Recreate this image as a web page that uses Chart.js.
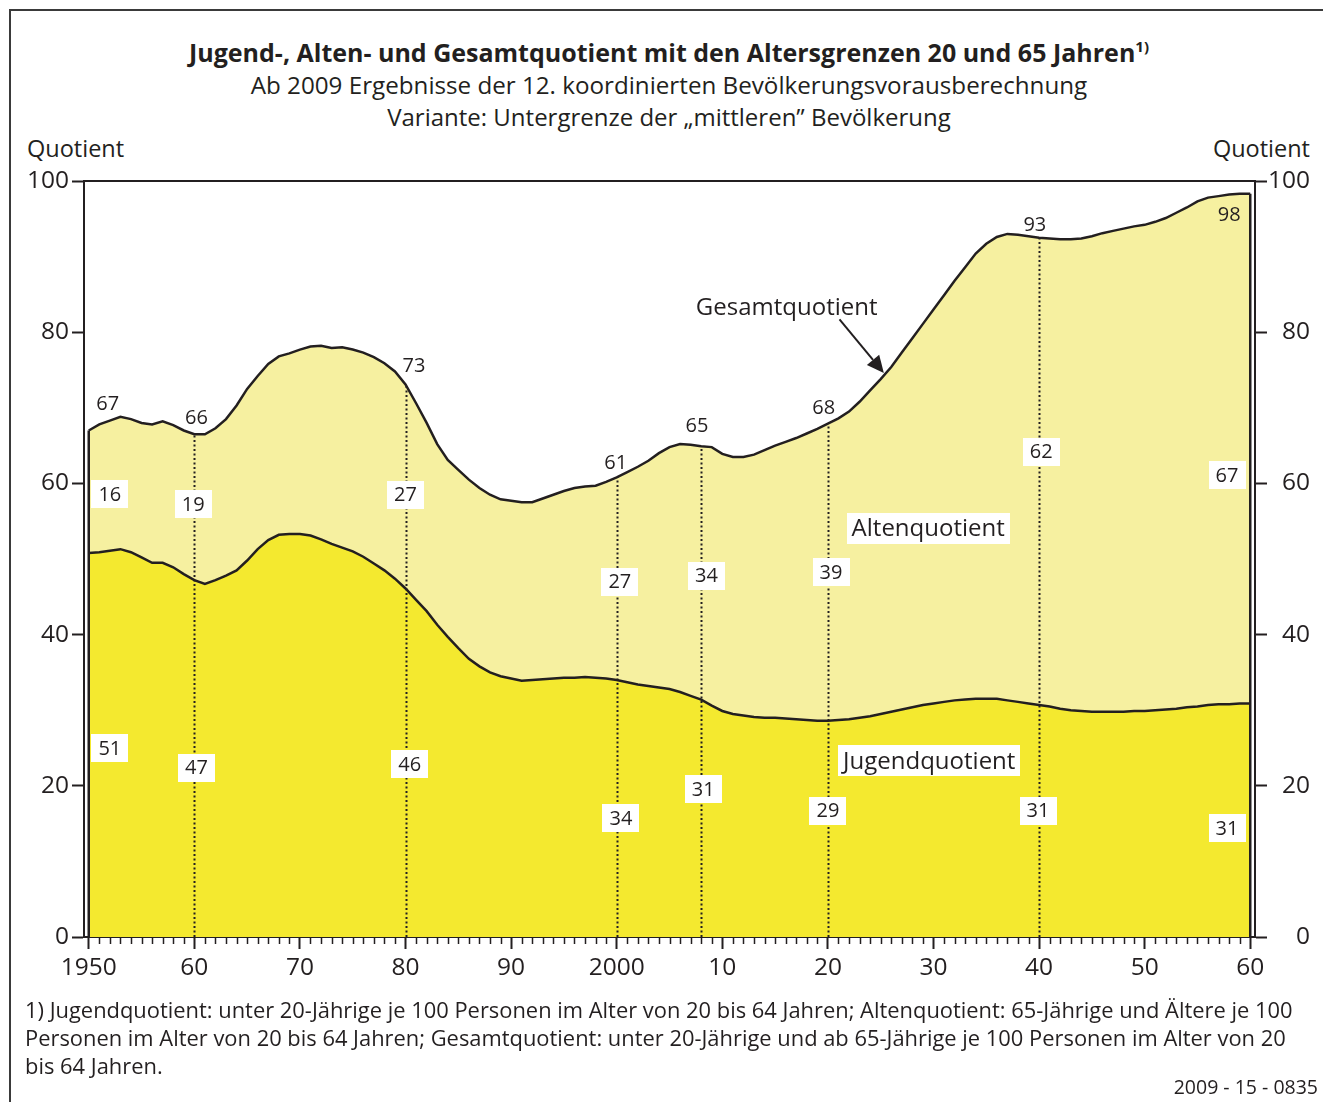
<!DOCTYPE html>
<html lang="de">
<head>
<meta charset="utf-8">
<title>Jugend-, Alten- und Gesamtquotient</title>
<script src="https://cdn.jsdelivr.net/npm/chart.js@4.4.1/dist/chart.umd.min.js"></script>
<style>
  html, body { margin: 0; padding: 0; background: #fff; }
  body { width: 1323px; height: 1102px; position: relative; overflow: hidden;
         font-family: "Open Sans", "Noto Sans", sans-serif; color: #231f20; }
  #frame { position: absolute; left: 9px; top: 9px; width: 1340px; height: 1120px;
           border: 2px solid #3a3a3a; box-sizing: border-box; }
  .t { position: absolute; left: 0; width: 1338px; text-align: center; white-space: nowrap; }
  #title { top: 37px; font-size: 25px; font-weight: 700; line-height: 30px; }
  #title sup { font-size: 15px; vertical-align: 10px; line-height: 0; }
  #sub1 { top: 70px; font-size: 24.2px; line-height: 30px; }
  #sub2 { top: 102px; font-size: 24px; line-height: 30px; }
  .q { position: absolute; top: 133px; font-size: 23.5px; line-height: 30px; }
  #qL { left: 27px; }
  #qR { right: 13px; }
  #wrap { position: absolute; left: 0; top: 0; width: 1323px; height: 1000px; }
  #note { position: absolute; left: 25px; top: 996px; font-size: 21.9px; line-height: 28px; white-space: nowrap; }
  #code { position: absolute; right: 5px; top: 1074px; font-size: 19.5px; line-height: 26px; }
</style>
</head>
<body>
<div id="frame"></div>
<div class="t" id="title">Jugend-, Alten- und Gesamtquotient mit den Altersgrenzen 20 und 65 Jahren<sup>1)</sup></div>
<div class="t" id="sub1">Ab 2009 Ergebnisse der 12. koordinierten Bevölkerungsvorausberechnung</div>
<div class="t" id="sub2">Variante: Untergrenze der „mittleren” Bevölkerung</div>
<div class="q" id="qL">Quotient</div>
<div class="q" id="qR">Quotient</div>
<div id="wrap"><canvas id="chart" width="1323" height="1000"></canvas></div>
<div id="note">1) Jugendquotient: unter 20-Jährige je 100 Personen im Alter von 20 bis 64 Jahren; Altenquotient: 65-Jährige und Ältere je 100<br>Personen im Alter von 20 bis 64 Jahren; Gesamtquotient: unter 20-Jährige und ab 65-Jährige je 100 Personen im Alter von 20<br>bis 64 Jahren.</div>
<div id="code">2009 - 15 - 0835</div>

<script>
// ---------- Data ----------
const years = [];
for (let yr = 1950; yr <= 2060; yr++) years.push(yr);

// Gesamtquotient, 1950..2060
const gesamt = [
  67.0, 67.8, 68.3, 68.8, 68.5, 68.0, 67.8, 68.2, 67.7, 67.0,   // 1950-59
  66.5, 66.5, 67.3, 68.5, 70.3, 72.5, 74.2, 75.8, 76.8, 77.2,   // 1960-69
  77.7, 78.1, 78.2, 77.9, 78.0, 77.7, 77.3, 76.7, 75.9, 74.8,   // 1970-79
  73.1, 70.6, 68.0, 65.2, 63.1, 61.8, 60.5, 59.4, 58.5, 57.9,   // 1980-89
  57.7, 57.5, 57.5, 58.0, 58.5, 59.0, 59.4, 59.6, 59.7, 60.2,   // 1990-99
  60.8, 61.5, 62.2, 63.0, 64.0, 64.8, 65.2, 65.1, 64.9, 64.8,   // 2000-09
  63.9, 63.5, 63.5, 63.8, 64.4, 65.0, 65.5, 66.0, 66.6, 67.2,   // 2010-19
  67.9, 68.6, 69.5, 70.8, 72.3, 73.8, 75.4, 77.3, 79.2, 81.1,   // 2020-29
  83.0, 84.9, 86.8, 88.6, 90.4, 91.7, 92.6, 93.0, 92.9, 92.7,   // 2030-39
  92.5, 92.4, 92.3, 92.3, 92.4, 92.7, 93.1, 93.4, 93.7, 94.0,   // 2040-49
  94.2, 94.6, 95.1, 95.8, 96.5, 97.3, 97.8, 98.0, 98.2, 98.3,   // 2050-59
  98.3                                                          // 2060
];

// Jugendquotient, 1950..2060
const jugend = [
  50.8, 50.9, 51.1, 51.3, 50.9, 50.2, 49.5, 49.5, 48.9, 48.0,
  47.2, 46.7, 47.2, 47.8, 48.5, 49.8, 51.3, 52.5, 53.2, 53.3,
  53.3, 53.1, 52.6, 52.0, 51.5, 51.0, 50.3, 49.4, 48.5, 47.4,
  46.1, 44.6, 43.1, 41.3, 39.7, 38.2, 36.8, 35.8, 35.0, 34.5,
  34.2, 33.9, 34.0, 34.1, 34.2, 34.3, 34.3, 34.4, 34.3, 34.2,
  34.0, 33.7, 33.4, 33.2, 33.0, 32.8, 32.4, 31.9, 31.4, 30.6,
  29.9, 29.5, 29.3, 29.1, 29.0, 29.0, 28.9, 28.8, 28.7, 28.6,
  28.6, 28.7, 28.8, 29.0, 29.2, 29.5, 29.8, 30.1, 30.4, 30.7,
  30.9, 31.1, 31.3, 31.4, 31.5, 31.5, 31.5, 31.3, 31.1, 30.9,
  30.7, 30.5, 30.2, 30.0, 29.9, 29.8, 29.8, 29.8, 29.8, 29.9,
  29.9, 30.0, 30.1, 30.2, 30.4, 30.5, 30.7, 30.8, 30.8, 30.9,
  30.9
];

// printed values at the marked years
const labelYears = [1950, 1960, 1980, 2000, 2008, 2020, 2040, 2060];
const gesamtLabels = [67, 66, 73, 61, 65, 68, 93, 98];
const altenLabels = [16, 19, 27, 27, 34, 39, 62, 67];
const jugendLabels = [51, 47, 46, 34, 31, 29, 31, 31];
const markerYears = [1960, 1980, 2000, 2008, 2020, 2040];

const xTickLabels = ['1950', '60', '70', '80', '90', '2000', '10', '20', '30', '40', '50', '60'];
const yTicks = [0, 20, 40, 60, 80, 100];

// ---------- Styles / placement ----------
const INK = '#231f20';
const BRIGHT = '#f4e92f';
const LIGHT = '#f6f0a0';
const FONT = '"Open Sans", "Noto Sans", sans-serif';

// label centres in axis units [year, value]
const gesamtPos = [[1951.8, 70.5], [1960.2, 68.6], [1980.8, 75.5], [1999.9, 62.7], [2007.6, 67.5], [2019.6, 69.9], [2039.6, 94.2], [2058.0, 95.4]];
const altenPos  = [[1952.0, 58.6], [1959.9, 57.3], [1980.0, 58.5], [2000.3, 47.0], [2008.5, 47.8], [2020.3, 48.3], [2040.2, 64.2], [2057.8, 61.1]];
const jugendPos = [[1952.0, 25.0], [1960.2, 22.4], [1980.4, 22.9], [2000.4, 15.7], [2008.2, 19.6], [2020.0, 16.7], [2039.9, 16.7], [2057.8, 14.4]];

// ---------- Overlay plugin ----------
function boxLabel(ctx, text, cx, cy, size, padX, h) {
  ctx.font = `${size}px ${FONT}`;
  const w = ctx.measureText(text).width + padX * 2;
  ctx.fillStyle = '#fff';
  ctx.fillRect(Math.round(cx - w / 2), Math.round(cy - h / 2), Math.round(w), h);
  ctx.fillStyle = INK;
  ctx.fillText(text, cx, cy + 1);
}

const overlay = {
  id: 'overlay',
  afterDatasetsDraw(chart) {
    const { ctx, chartArea: a, scales: { x, y } } = chart;
    const px = v => x.getPixelForValue(v);
    const py = v => y.getPixelForValue(v);
    const last = years.length - 1;
    ctx.save();

    // solid edges of the area at both ends
    ctx.strokeStyle = INK;
    ctx.lineWidth = 2.5;
    [0, last].forEach(i => {
      ctx.beginPath();
      ctx.moveTo(px(years[i]), py(0));
      ctx.lineTo(px(years[i]), py(gesamt[i]));
      ctx.stroke();
    });

    // dotted marker lines
    ctx.lineWidth = 2;
    ctx.setLineDash([2, 2.5]);
    markerYears.forEach(yr => {
      const i = years.indexOf(yr);
      const xx = Math.round(px(yr)) + 0.5;
      ctx.beginPath();
      ctx.moveTo(xx, py(0));
      ctx.lineTo(xx, py(gesamt[i]));
      ctx.stroke();
    });
    ctx.setLineDash([]);

    // value labels
    ctx.textAlign = 'center';
    ctx.textBaseline = 'middle';
    ctx.fillStyle = INK;
    ctx.font = `20px ${FONT}`;
    gesamtLabels.forEach((v, i) => ctx.fillText(String(v), px(gesamtPos[i][0]), py(gesamtPos[i][1])));
    altenLabels.forEach((v, i) => boxLabel(ctx, String(v), px(altenPos[i][0]), py(altenPos[i][1]), 20, 7, 28));
    jugendLabels.forEach((v, i) => boxLabel(ctx, String(v), px(jugendPos[i][0]), py(jugendPos[i][1]), 20, 7, 28));

    // series names
    boxLabel(ctx, 'Altenquotient', px(2029.5), py(54.1), 24, 5, 31);
    boxLabel(ctx, 'Jugendquotient', px(2029.6), py(23.3), 24, 5, 31);
    ctx.font = `24px ${FONT}`;
    ctx.fillStyle = INK;
    ctx.fillText('Gesamtquotient', px(2016.1), py(83.2));

    // arrow to the Gesamtquotient curve
    const x0 = px(2021.1), y0 = py(81.7), x1 = px(2025.3), y1 = py(74.6);
    const ang = Math.atan2(y1 - y0, x1 - x0);
    const hl = 17, hw = 8;
    const bx = x1 - hl * Math.cos(ang), by = y1 - hl * Math.sin(ang);
    ctx.lineWidth = 2;
    ctx.beginPath();
    ctx.moveTo(x0, y0);
    ctx.lineTo(bx, by);
    ctx.stroke();
    ctx.beginPath();
    ctx.moveTo(x1, y1);
    ctx.lineTo(bx + hw * Math.sin(ang), by - hw * Math.cos(ang));
    ctx.lineTo(bx - hw * Math.sin(ang), by + hw * Math.cos(ang));
    ctx.closePath();
    ctx.fill();

    // frame top + yearly minor ticks
    ctx.lineWidth = 2;
    ctx.beginPath();
    ctx.moveTo(a.left, a.top);
    ctx.lineTo(a.right, a.top);
    ctx.stroke();
    ctx.lineWidth = 1.5;
    years.forEach(yr => {
      if (yr % 10 === 0) return;
      const xx = Math.round(px(yr)) + 0.5;
      ctx.beginPath();
      ctx.moveTo(xx, a.bottom);
      ctx.lineTo(xx, a.bottom + 7);
      ctx.stroke();
    });
    ctx.restore();
  }
};

// ---------- Chart ----------
const tickFont = { family: FONT, size: 24.5 };
const yAxis = (position, width) => ({
  type: 'linear',
  position,
  min: 0,
  max: 100,
  afterFit: s => { s.width = width; },
  afterBuildTicks: s => { s.ticks = yTicks.map(v => ({ value: v })); },
  ticks: { color: INK, font: tickFont, padding: 3, crossAlign: position === 'right' ? 'far' : 'near' },
  grid: { drawOnChartArea: false, drawTicks: true, tickLength: 12, tickWidth: 2, tickColor: INK },
  border: { display: true, color: INK, width: 2 }
});

new Chart(document.getElementById('chart'), {
  type: 'line',
  data: {
    datasets: [
      {
        label: 'Jugendquotient',
        data: years.map((yr, i) => ({ x: yr, y: jugend[i] })),
        borderColor: INK,
        borderWidth: 2.5,
        backgroundColor: BRIGHT,
        fill: 'origin',
        pointRadius: 0,
        tension: 0
      },
      {
        label: 'Gesamtquotient',
        data: years.map((yr, i) => ({ x: yr, y: gesamt[i] })),
        borderColor: INK,
        borderWidth: 2.5,
        backgroundColor: LIGHT,
        fill: 'origin',
        pointRadius: 0,
        tension: 0
      }
    ]
  },
  options: {
    responsive: false,
    animation: false,
    devicePixelRatio: 1,
    layout: { padding: { top: 181, right: 13, left: 0, bottom: 0 } },
    plugins: { legend: { display: false }, tooltip: { enabled: false } },
    scales: {
      x: {
        type: 'linear',
        min: 1949.55,
        max: 2060.45,
        afterFit: s => { s.height = 63; },
        afterBuildTicks: s => { s.ticks = xTickLabels.map((_, i) => ({ value: 1950 + i * 10 })); },
        ticks: {
          color: INK,
          font: tickFont,
          padding: 4,
          maxRotation: 0,
          autoSkip: false,
          callback: v => xTickLabels[Math.round((v - 1950) / 10)]
        },
        grid: { drawOnChartArea: false, drawTicks: true, tickLength: 12, tickWidth: 2, tickColor: INK },
        border: { display: true, color: INK, width: 2 }
      },
      y: yAxis('left', 84),
      y2: yAxis('right', 55)
    }
  },
  plugins: [overlay]
});
</script>
</body>
</html>
